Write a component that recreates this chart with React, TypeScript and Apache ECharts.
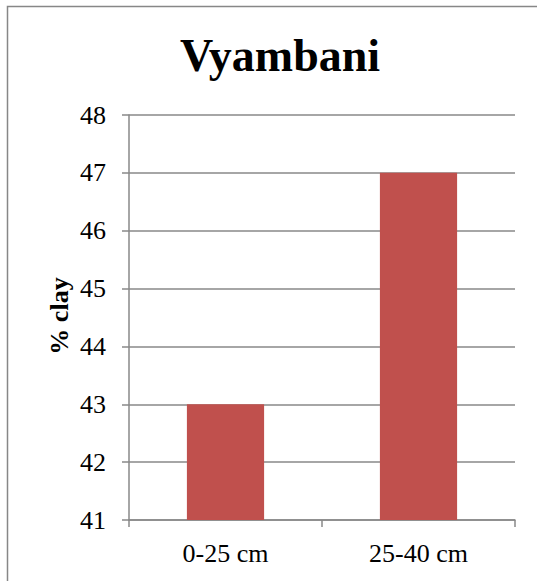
import React, { useEffect, useRef } from "react";
import * as echarts from "echarts";

const title = "Vyambani";
const yAxisTitle = "% clay";
const categories = ["0-25 cm", "25-40 cm"];
const clayValues = [43, 47];
const yMin = 41;
const yMax = 48;
const yStep = 1;

export default function App() {
  const ref = useRef<HTMLDivElement>(null);
  useEffect(() => {
    if (!ref.current) return;
    const chart = echarts.init(ref.current, null, { renderer: "svg" });
    const serif = "'Liberation Serif', 'Times New Roman', serif";
    const gray = "#898989";
    chart.setOption({
      animation: false,
      backgroundColor: "#ffffff",
      title: {
        text: title,
        left: 275,
        top: 27,
        textAlign: "center",
        textStyle: { fontFamily: serif, fontSize: 46, fontWeight: "bold", color: "#000" },
      },
      grid: { left: 129, right: 22, top: 115, bottom: 61, containLabel: false },
      xAxis: {
        type: "category",
        data: categories,
        axisLine: { lineStyle: { color: gray, width: 1.5 } },
        axisTick: { show: true, length: 7, alignWithLabel: false, lineStyle: { color: gray, width: 1.5 } },
        axisLabel: { fontFamily: serif, fontSize: 26, color: "#000", margin: 20 },
      },
      yAxis: {
        type: "value",
        min: yMin,
        max: yMax,
        interval: yStep,
        axisLine: { show: true, lineStyle: { color: gray, width: 1.5 } },
        axisTick: { show: true, length: 7, lineStyle: { color: gray, width: 1.5 } },
        axisLabel: { fontFamily: serif, fontSize: 26, color: "#000", margin: 23 },
        splitLine: { show: true, lineStyle: { color: gray, width: 1.5 } },
      },
      series: [
        {
          type: "bar",
          data: clayValues,
          barWidth: "40%",
          itemStyle: { color: "#C0504D" },
        },
      ],
      graphic: [
        {
          type: "rect",
          shape: { x: 7.5, y: 6.5, width: 700, height: 800 },
          style: { fill: "none", stroke: "#878787", lineWidth: 1.5 },
          silent: true,
        },
        {
          type: "text",
          x: 59,
          y: 316,
          rotation: Math.PI / 2,
          style: {
            text: yAxisTitle,
            fontFamily: serif,
            fontSize: 26,
            fontWeight: "bold",
            fill: "#000",
            textAlign: "center",
            textVerticalAlign: "middle",
          },
        },
      ],
    });
    return () => chart.dispose();
  }, []);
  return <div ref={ref} style={{ position: "absolute", left: 0, top: 0, width: 537, height: 581 }} />;
}
